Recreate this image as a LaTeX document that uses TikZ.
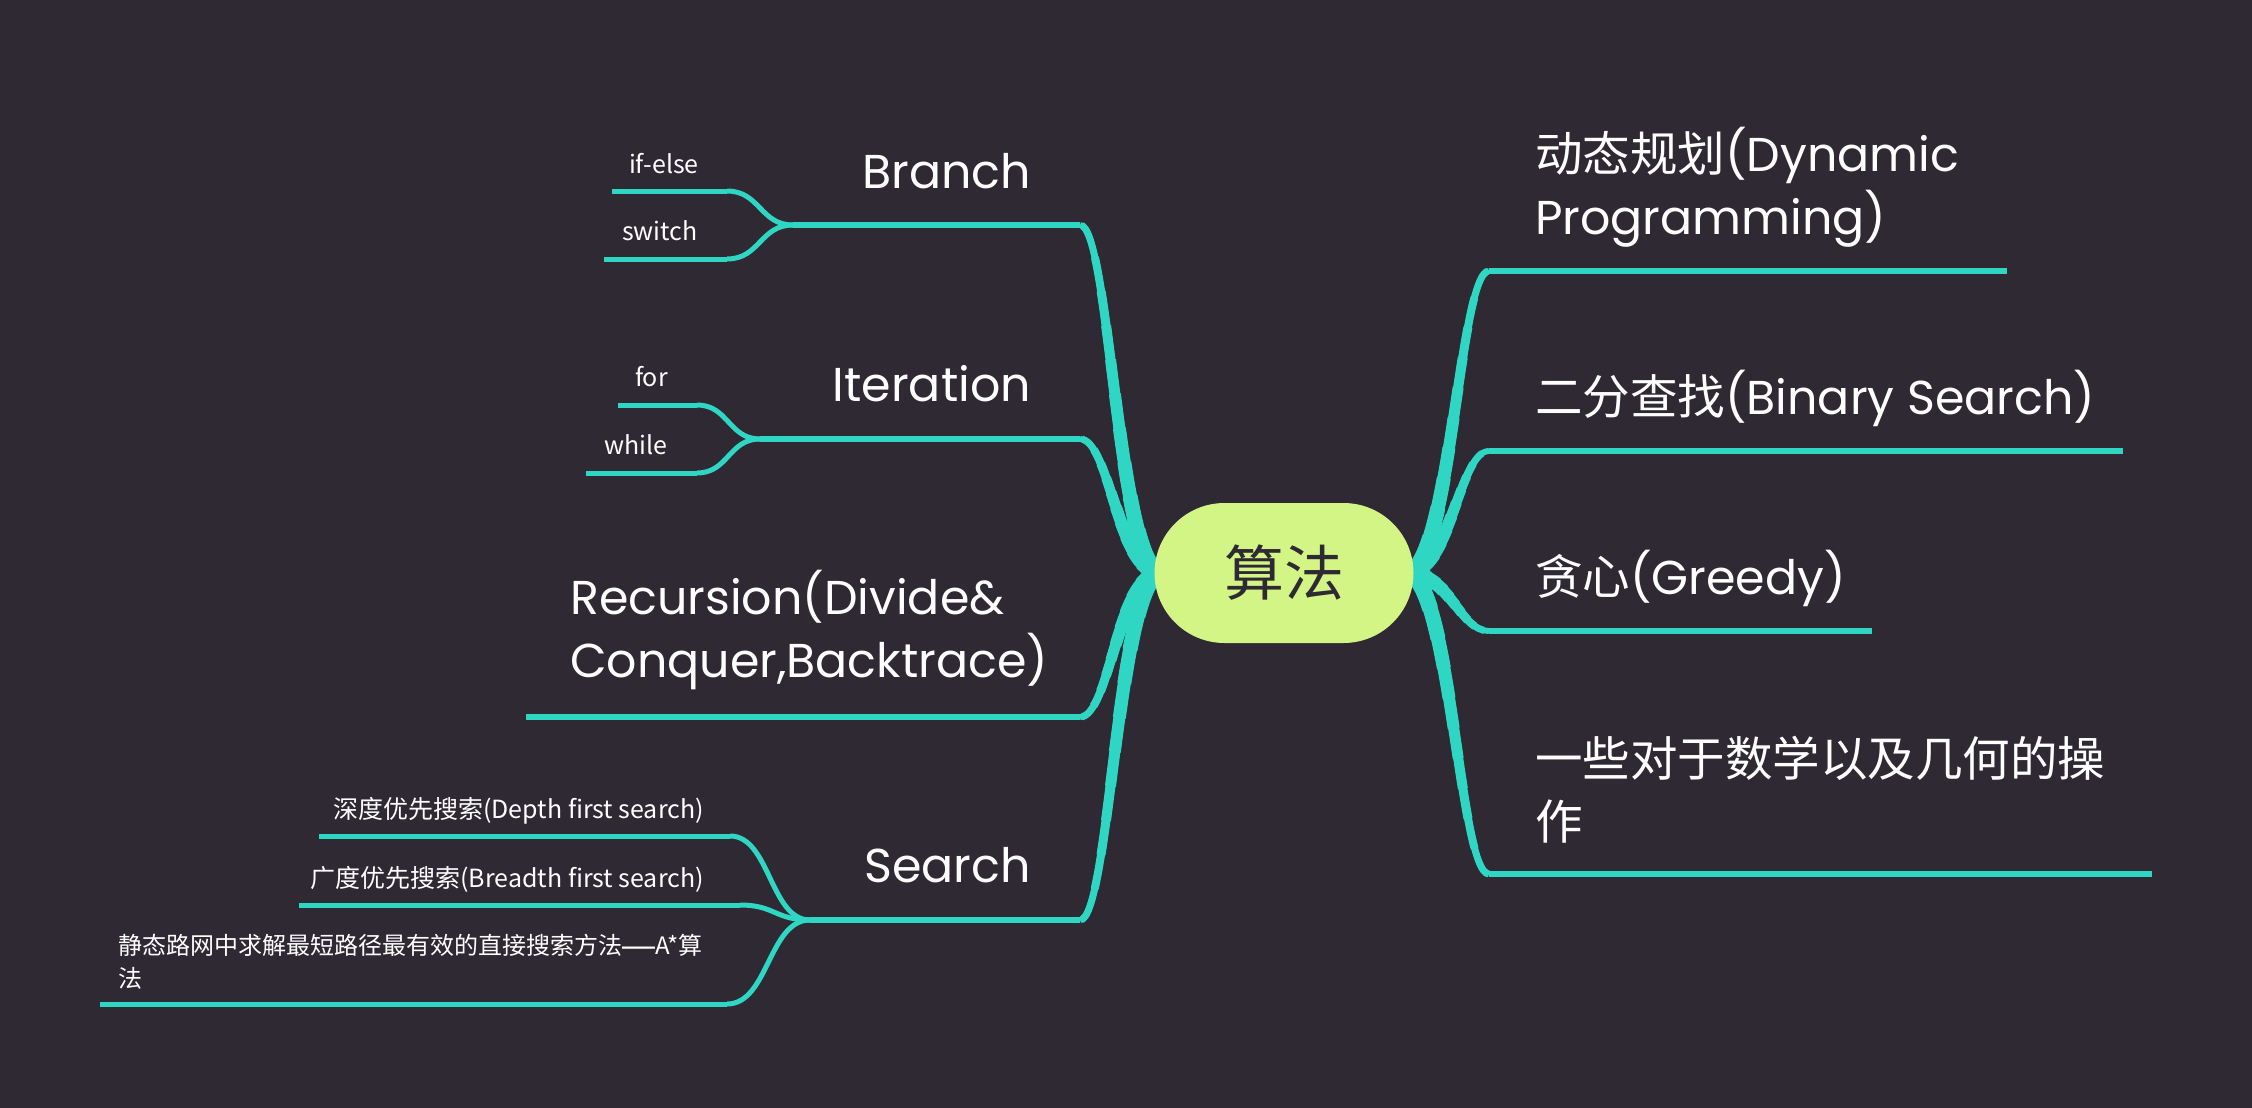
\documentclass[tikz,border=0pt]{standalone}
\usepackage{fontspec}
\setmainfont{Poppins}
\newfontfamily\cjk{Noto Sans CJK SC}
\newfontfamily\lsans{Liberation Sans}
\usetikzlibrary{calc,backgrounds}
\definecolor{bgc}{HTML}{2F2933}
\definecolor{brc}{HTML}{2ED6C3}
\definecolor{ctrc}{HTML}{D2F586}
\tikzset{
  mainline/.style={draw=brc, line width=6pt},
  subline/.style={draw=brc, line width=5pt},
  topic/.style={text=white, inner sep=0pt, font=\fontsize{47.5}{63}\selectfont},
  small/.style={text=white, inner sep=0pt, font=\cjk\fontsize{25}{33}\selectfont},
  centre/.style={fill=ctrc, rounded corners=70pt, minimum width=259pt, minimum height=140pt,
    inner sep=0pt, text=bgc, font=\cjk\fontsize{60}{60}\selectfont},
}
% tapered main branch: #1 root, #2 end, #3 direction (+1 right, -1 left), #4 approx length
\newcommand\taper[4]{%
  \draw[brc, line width=6pt] (#1) .. controls ($(#1)+(#3*45,0)$) and ($(#2)+(-#3*30,0)$) .. (#2);
  \foreach \w in {7,...,17}{%
    \pgfmathsetmacro\onlen{#4*(17.5-\w)/11}%
    \draw[brc, line width=\w pt, dash pattern=on \onlen pt off 5000pt]
      (#1) .. controls ($(#1)+(#3*45,0)$) and ($(#2)+(-#3*30,0)$) .. (#2);
  }}
% S-shaped sub branch
\newcommand\sbranch[2]{%
  \draw[subline] let \p1=(#1), \p2=(#2) in
    (#1) .. controls (\x1/2+\x2/2,\y1) and (\x1/2+\x2/2,\y2) .. (#2);}
\begin{document}
\begin{tikzpicture}[x=1pt,y=-1pt]
\useasboundingbox (0,0) rectangle (2252,1108);
\node[centre] (c) at (1284,573) {算法};
\coordinate (rl) at ($(c.west)+(8,0)$);
\coordinate (rr) at ($(c.east)+(-8,0)$);

% ---------- right topics ----------
\node[topic, anchor=base west, align=left] (dp) at (1535,234) {{\cjk 动态规划}(Dynamic\\Programming)};
\coordinate (dp-a) at (1489,271); \coordinate (dp-b) at (2007,271);
\node[topic, anchor=base west] (bs) at (1535,414) {{\cjk 二分查找}(Binary Search)};
\coordinate (bs-a) at (1489,451); \coordinate (bs-b) at (2123,451);
\node[topic, anchor=base west] (gr) at (1535,594) {{\cjk 贪心}(Greedy)};
\coordinate (gr-a) at (1489,631); \coordinate (gr-b) at (1872,631);
\node[topic, anchor=base west, align=left] (ma) at (1535,839) {{\cjk 一些对于数学以及几何的操}\\{\cjk 作}};
\coordinate (ma-a) at (1489,874); \coordinate (ma-b) at (2152,874);

% ---------- left topics ----------
\node[topic, anchor=base east] (br) at (1031,188) {Branch};
\coordinate (br-a) at (793,225); \coordinate (br-b) at (1080,225);
\node[topic, anchor=base east] (it) at (1031,401) {Iteration};
\coordinate (it-a) at (760,439); \coordinate (it-b) at (1080,439);
\node[topic, anchor=base west, align=left] (re) at (570,677) {Recursion(Divide\&\\Conquer,Backtrace)};
\coordinate (re-a) at (526,717); \coordinate (re-b) at (1080,717);
\node[topic, anchor=base east] (se) at (1031,882) {Search};
\coordinate (se-a) at (810,920); \coordinate (se-b) at (1080,920);

% ---------- sub topics ----------
\node[small, anchor=base east] (ie) at (699,173) {if-else};
\coordinate (ie-a) at (612,191); \coordinate (ie-b) at (727,191);
\node[small, anchor=base east] (sw) at (698,240) {switch};
\coordinate (sw-a) at (604,259); \coordinate (sw-b) at (727,259);
\node[small, anchor=base east] (fo) at (668,386) {for};
\coordinate (fo-a) at (618,405); \coordinate (fo-b) at (697,405);
\node[small, anchor=base east] (wh) at (668,454) {while};
\coordinate (wh-a) at (586,473); \coordinate (wh-b) at (697,473);
\node[small, anchor=base east] (df) at (704,818) {深度优先搜索(Depth first search)};
\coordinate (df-a) at (319,836); \coordinate (df-b) at (730,836);
\node[small, anchor=base east] (bf) at (704,887) {广度优先搜索(Breadth first search)};
\coordinate (bf-a) at (299,905); \coordinate (bf-b) at (740,905);
\node[small, anchor=base west, align=left, font=\cjk\fontsize{24}{33}\selectfont] (as) at (118,987)
  {静态路网中求解最短路径最有效的直接搜索方法\raisebox{-2pt}{\lsans\fontsize{33}{33}\selectfont —}A*算\\法};
\coordinate (as-a) at (100,1004); \coordinate (as-b) at (727,1004);

\begin{pgfonlayer}{background}
\fill[bgc] (0,0) rectangle (2252,1108);
% main branches
\taper{rr}{dp-a}{1}{335}
\taper{rr}{bs-a}{1}{155}
\taper{rr}{gr-a}{1}{105}
\taper{rr}{ma-a}{1}{335}
\taper{rl}{br-b}{-1}{380}
\taper{rl}{it-b}{-1}{170}
\taper{rl}{re-b}{-1}{180}
\taper{rl}{se-b}{-1}{380}
\foreach \t in {dp,bs,gr,ma,br,it,re,se}{\draw[mainline] (\t-a) -- (\t-b);}
% sub branches
\foreach \t in {ie,sw,fo,wh,df,bf,as}{\draw[subline] (\t-a) -- (\t-b);}
\sbranch{ie-b}{br-a}
\sbranch{sw-b}{br-a}
\sbranch{fo-b}{it-a}
\sbranch{wh-b}{it-a}
\sbranch{df-b}{se-a}
\sbranch{bf-b}{se-a}
\sbranch{as-b}{se-a}
\end{pgfonlayer}
\end{tikzpicture}
\end{document}
